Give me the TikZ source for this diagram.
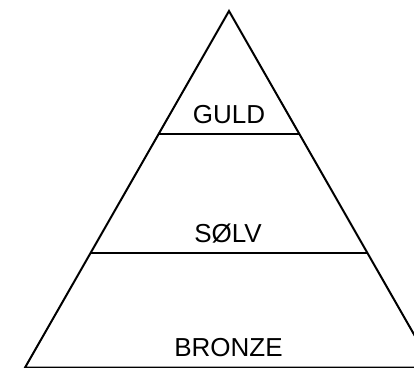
\documentclass[tikz,border=0pt]{standalone}
\usepackage{fontspec}
\setmainfont{Liberation Sans}
\usetikzlibrary{calc}

\begin{document}
\begin{tikzpicture}[
  x=1pt,y=-1pt,
  line width=2pt,
  every node/.style={font=\fontsize{26}{26}\selectfont,anchor=base,inner sep=0pt}]
\clip (0,0) rectangle (414,367);
\coordinate (top) at (229,11);
\coordinate (bl) at (25,367.6);
\coordinate (br) at (433,367.6);
\draw[line join=miter] (bl) -- (top) -- (br) -- cycle;
\draw ($(top)!0.345!(bl)$) -- ($(top)!0.345!(br)$);
\draw ($(top)!0.679!(bl)$) -- ($(top)!0.679!(br)$);
\node (guld) at (229,123) {GULD};
\node (soelv) at (228,242) {SØLV};
\node (bronze) at (228.5,356) {BRONZE};
\end{tikzpicture}
\end{document}
